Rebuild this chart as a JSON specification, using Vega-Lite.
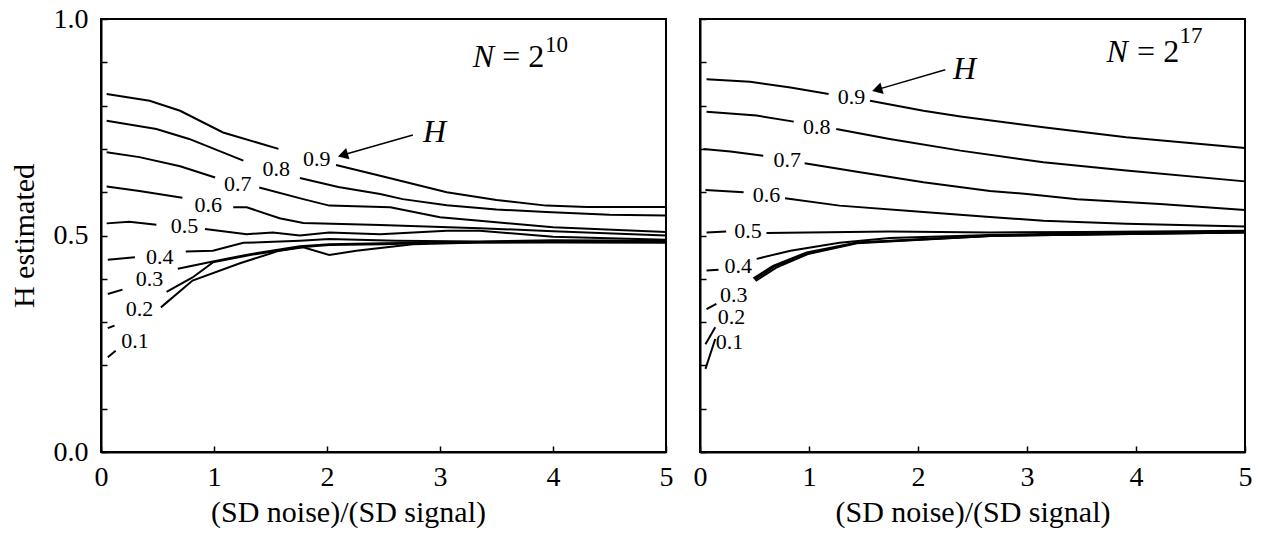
{
  "$schema": "https://vega.github.io/schema/vega-lite/v6.json",
  "background": "white",
  "padding": {"left": 8, "top": 4, "right": 0, "bottom": 0},
  "bounds": "flush",
  "spacing": 34,
  "config": {
    "font": "Liberation Serif",
    "view": {"stroke": "#000", "strokeWidth": 2},
    "axis": {
      "grid": false,
      "domainColor": "#000",
      "domainWidth": 2,
      "tickColor": "#000",
      "tickWidth": 1.5,
      "tickSize": -6,
      "labelFont": "Liberation Serif",
      "labelFontSize": 28,
      "labelColor": "#000",
      "labelPadding": 19,
      "labelFlush": false,
      "labelOverlap": false,
      "titleFont": "Liberation Serif",
      "titleFontSize": 30,
      "titleFontWeight": "normal",
      "titleColor": "#000"
    },
    "axisX": {"labelPadding": 17},
    "text": {"font": "Liberation Serif", "color": "#000"}
  },
  "datasets": {
    "one": [{}],
    "curves": [
      {"p": "L", "s": "L9a", "x": 0.05, "y": 0.827}, {"p": "L", "s": "L9a", "x": 0.43, "y": 0.811}, {"p": "L", "s": "L9a", "x": 0.70, "y": 0.788}, {"p": "L", "s": "L9a", "x": 1.08, "y": 0.738}, {"p": "L", "s": "L9a", "x": 1.57, "y": 0.700},
      {"p": "L", "s": "L9b", "x": 2.08, "y": 0.663}, {"p": "L", "s": "L9b", "x": 2.47, "y": 0.638}, {"p": "L", "s": "L9b", "x": 3.06, "y": 0.600}, {"p": "L", "s": "L9b", "x": 3.50, "y": 0.582}, {"p": "L", "s": "L9b", "x": 3.94, "y": 0.569}, {"p": "L", "s": "L9b", "x": 4.30, "y": 0.566}, {"p": "L", "s": "L9b", "x": 5.0, "y": 0.566},
      {"p": "L", "s": "L8a", "x": 0.05, "y": 0.765}, {"p": "L", "s": "L8a", "x": 0.49, "y": 0.746}, {"p": "L", "s": "L8a", "x": 0.78, "y": 0.723}, {"p": "L", "s": "L8a", "x": 1.26, "y": 0.673},
      {"p": "L", "s": "L8b", "x": 1.76, "y": 0.633}, {"p": "L", "s": "L8b", "x": 2.10, "y": 0.612}, {"p": "L", "s": "L8b", "x": 2.47, "y": 0.596}, {"p": "L", "s": "L8b", "x": 2.67, "y": 0.584}, {"p": "L", "s": "L8b", "x": 3.06, "y": 0.570}, {"p": "L", "s": "L8b", "x": 3.5, "y": 0.560}, {"p": "L", "s": "L8b", "x": 3.94, "y": 0.554}, {"p": "L", "s": "L8b", "x": 4.5, "y": 0.548}, {"p": "L", "s": "L8b", "x": 5.0, "y": 0.546},
      {"p": "L", "s": "L7a", "x": 0.05, "y": 0.692}, {"p": "L", "s": "L7a", "x": 0.34, "y": 0.681}, {"p": "L", "s": "L7a", "x": 0.70, "y": 0.660}, {"p": "L", "s": "L7a", "x": 1.01, "y": 0.634},
      {"p": "L", "s": "L7b", "x": 1.40, "y": 0.611}, {"p": "L", "s": "L7b", "x": 1.79, "y": 0.584}, {"p": "L", "s": "L7b", "x": 2.02, "y": 0.569}, {"p": "L", "s": "L7b", "x": 2.56, "y": 0.565}, {"p": "L", "s": "L7b", "x": 3.0, "y": 0.542}, {"p": "L", "s": "L7b", "x": 3.35, "y": 0.534}, {"p": "L", "s": "L7b", "x": 4.0, "y": 0.519}, {"p": "L", "s": "L7b", "x": 5.0, "y": 0.508},
      {"p": "L", "s": "L6a", "x": 0.05, "y": 0.613}, {"p": "L", "s": "L6a", "x": 0.34, "y": 0.603}, {"p": "L", "s": "L6a", "x": 0.72, "y": 0.587},
      {"p": "L", "s": "L6b", "x": 1.17, "y": 0.565}, {"p": "L", "s": "L6b", "x": 1.29, "y": 0.565}, {"p": "L", "s": "L6b", "x": 1.58, "y": 0.540}, {"p": "L", "s": "L6b", "x": 1.79, "y": 0.529}, {"p": "L", "s": "L6b", "x": 2.47, "y": 0.524}, {"p": "L", "s": "L6b", "x": 3.35, "y": 0.517}, {"p": "L", "s": "L6b", "x": 4.0, "y": 0.510}, {"p": "L", "s": "L6b", "x": 5.0, "y": 0.500},
      {"p": "L", "s": "L5a", "x": 0.05, "y": 0.528}, {"p": "L", "s": "L5a", "x": 0.25, "y": 0.532}, {"p": "L", "s": "L5a", "x": 0.49, "y": 0.525},
      {"p": "L", "s": "L5b", "x": 0.92, "y": 0.515}, {"p": "L", "s": "L5b", "x": 1.29, "y": 0.503}, {"p": "L", "s": "L5b", "x": 1.52, "y": 0.507}, {"p": "L", "s": "L5b", "x": 1.76, "y": 0.500}, {"p": "L", "s": "L5b", "x": 2.02, "y": 0.507}, {"p": "L", "s": "L5b", "x": 2.47, "y": 0.503}, {"p": "L", "s": "L5b", "x": 3.06, "y": 0.511}, {"p": "L", "s": "L5b", "x": 3.35, "y": 0.511}, {"p": "L", "s": "L5b", "x": 4.0, "y": 0.497}, {"p": "L", "s": "L5b", "x": 5.0, "y": 0.490},
      {"p": "L", "s": "L4a", "x": 0.06, "y": 0.444}, {"p": "L", "s": "L4a", "x": 0.30, "y": 0.450},
      {"p": "L", "s": "L4b", "x": 0.75, "y": 0.463}, {"p": "L", "s": "L4b", "x": 0.99, "y": 0.465}, {"p": "L", "s": "L4b", "x": 1.26, "y": 0.483}, {"p": "L", "s": "L4b", "x": 1.76, "y": 0.488}, {"p": "L", "s": "L4b", "x": 2.02, "y": 0.492}, {"p": "L", "s": "L4b", "x": 2.61, "y": 0.488}, {"p": "L", "s": "L4b", "x": 3.35, "y": 0.486}, {"p": "L", "s": "L4b", "x": 4.0, "y": 0.489}, {"p": "L", "s": "L4b", "x": 5.0, "y": 0.488},
      {"p": "L", "s": "L3a", "x": 0.06, "y": 0.365}, {"p": "L", "s": "L3a", "x": 0.19, "y": 0.375},
      {"p": "L", "s": "L3b", "x": 0.68, "y": 0.423}, {"p": "L", "s": "L3b", "x": 0.99, "y": 0.440}, {"p": "L", "s": "L3b", "x": 1.32, "y": 0.457}, {"p": "L", "s": "L3b", "x": 1.76, "y": 0.475}, {"p": "L", "s": "L3b", "x": 2.02, "y": 0.480}, {"p": "L", "s": "L3b", "x": 2.5, "y": 0.482}, {"p": "L", "s": "L3b", "x": 3.0, "y": 0.484}, {"p": "L", "s": "L3b", "x": 4.0, "y": 0.487}, {"p": "L", "s": "L3b", "x": 5.0, "y": 0.486},
      {"p": "L", "s": "L2a", "x": 0.06, "y": 0.286}, {"p": "L", "s": "L2a", "x": 0.12, "y": 0.292},
      {"p": "L", "s": "L2b", "x": 0.58, "y": 0.370}, {"p": "L", "s": "L2b", "x": 0.81, "y": 0.403}, {"p": "L", "s": "L2b", "x": 0.99, "y": 0.438}, {"p": "L", "s": "L2b", "x": 1.32, "y": 0.455}, {"p": "L", "s": "L2b", "x": 1.76, "y": 0.473}, {"p": "L", "s": "L2b", "x": 2.02, "y": 0.478}, {"p": "L", "s": "L2b", "x": 2.5, "y": 0.480}, {"p": "L", "s": "L2b", "x": 3.0, "y": 0.483}, {"p": "L", "s": "L2b", "x": 4.0, "y": 0.485}, {"p": "L", "s": "L2b", "x": 5.0, "y": 0.485},
      {"p": "L", "s": "L1a", "x": 0.06, "y": 0.219}, {"p": "L", "s": "L1a", "x": 0.13, "y": 0.234},
      {"p": "L", "s": "L1b", "x": 0.53, "y": 0.334}, {"p": "L", "s": "L1b", "x": 0.81, "y": 0.396}, {"p": "L", "s": "L1b", "x": 1.23, "y": 0.436}, {"p": "L", "s": "L1b", "x": 1.58, "y": 0.465}, {"p": "L", "s": "L1b", "x": 1.79, "y": 0.473}, {"p": "L", "s": "L1b", "x": 2.02, "y": 0.455}, {"p": "L", "s": "L1b", "x": 2.26, "y": 0.465}, {"p": "L", "s": "L1b", "x": 2.76, "y": 0.480}, {"p": "L", "s": "L1b", "x": 3.35, "y": 0.484}, {"p": "L", "s": "L1b", "x": 4.0, "y": 0.484}, {"p": "L", "s": "L1b", "x": 5.0, "y": 0.483},

      {"p": "R", "s": "R9a", "x": 0.06, "y": 0.861}, {"p": "R", "s": "R9a", "x": 0.46, "y": 0.855}, {"p": "R", "s": "R9a", "x": 0.83, "y": 0.842}, {"p": "R", "s": "R9a", "x": 1.18, "y": 0.827},
      {"p": "R", "s": "R9b", "x": 1.56, "y": 0.811}, {"p": "R", "s": "R9b", "x": 2.05, "y": 0.788}, {"p": "R", "s": "R9b", "x": 2.39, "y": 0.775}, {"p": "R", "s": "R9b", "x": 3.15, "y": 0.750}, {"p": "R", "s": "R9b", "x": 3.91, "y": 0.727}, {"p": "R", "s": "R9b", "x": 5.0, "y": 0.702},
      {"p": "R", "s": "R8a", "x": 0.06, "y": 0.786}, {"p": "R", "s": "R8a", "x": 0.52, "y": 0.777}, {"p": "R", "s": "R8a", "x": 0.86, "y": 0.763},
      {"p": "R", "s": "R8b", "x": 1.25, "y": 0.746}, {"p": "R", "s": "R8b", "x": 1.74, "y": 0.723}, {"p": "R", "s": "R8b", "x": 2.39, "y": 0.696}, {"p": "R", "s": "R8b", "x": 3.15, "y": 0.669}, {"p": "R", "s": "R8b", "x": 3.91, "y": 0.650}, {"p": "R", "s": "R8b", "x": 5.0, "y": 0.625},
      {"p": "R", "s": "R7a", "x": 0.03, "y": 0.700}, {"p": "R", "s": "R7a", "x": 0.28, "y": 0.694}, {"p": "R", "s": "R7a", "x": 0.58, "y": 0.684},
      {"p": "R", "s": "R7b", "x": 0.96, "y": 0.667}, {"p": "R", "s": "R7b", "x": 1.44, "y": 0.647}, {"p": "R", "s": "R7b", "x": 2.05, "y": 0.623}, {"p": "R", "s": "R7b", "x": 2.66, "y": 0.603}, {"p": "R", "s": "R7b", "x": 3.0, "y": 0.596}, {"p": "R", "s": "R7b", "x": 3.46, "y": 0.584}, {"p": "R", "s": "R7b", "x": 4.22, "y": 0.573}, {"p": "R", "s": "R7b", "x": 5.0, "y": 0.559},
      {"p": "R", "s": "R6a", "x": 0.05, "y": 0.605}, {"p": "R", "s": "R6a", "x": 0.40, "y": 0.600},
      {"p": "R", "s": "R6b", "x": 0.78, "y": 0.586}, {"p": "R", "s": "R6b", "x": 1.28, "y": 0.569}, {"p": "R", "s": "R6b", "x": 2.05, "y": 0.554}, {"p": "R", "s": "R6b", "x": 2.66, "y": 0.543}, {"p": "R", "s": "R6b", "x": 3.15, "y": 0.534}, {"p": "R", "s": "R6b", "x": 3.91, "y": 0.527}, {"p": "R", "s": "R6b", "x": 5.0, "y": 0.521},
      {"p": "R", "s": "R5a", "x": 0.06, "y": 0.507}, {"p": "R", "s": "R5a", "x": 0.24, "y": 0.509},
      {"p": "R", "s": "R5b", "x": 0.61, "y": 0.506}, {"p": "R", "s": "R5b", "x": 1.74, "y": 0.509}, {"p": "R", "s": "R5b", "x": 2.66, "y": 0.507}, {"p": "R", "s": "R5b", "x": 3.5, "y": 0.508}, {"p": "R", "s": "R5b", "x": 5.0, "y": 0.511},
      {"p": "R", "s": "R4a", "x": 0.06, "y": 0.419}, {"p": "R", "s": "R4a", "x": 0.17, "y": 0.421},
      {"p": "R", "s": "R4b", "x": 0.52, "y": 0.446}, {"p": "R", "s": "R4b", "x": 0.83, "y": 0.465}, {"p": "R", "s": "R4b", "x": 1.28, "y": 0.483}, {"p": "R", "s": "R4b", "x": 1.74, "y": 0.494}, {"p": "R", "s": "R4b", "x": 2.66, "y": 0.501}, {"p": "R", "s": "R4b", "x": 3.5, "y": 0.505}, {"p": "R", "s": "R4b", "x": 5.0, "y": 0.509},
      {"p": "R", "s": "R3a", "x": 0.06, "y": 0.330}, {"p": "R", "s": "R3a", "x": 0.15, "y": 0.342},
      {"p": "R", "s": "R3b", "x": 0.49, "y": 0.401}, {"p": "R", "s": "R3b", "x": 0.67, "y": 0.430}, {"p": "R", "s": "R3b", "x": 0.98, "y": 0.461}, {"p": "R", "s": "R3b", "x": 1.44, "y": 0.484}, {"p": "R", "s": "R3b", "x": 2.66, "y": 0.500}, {"p": "R", "s": "R3b", "x": 3.5, "y": 0.503}, {"p": "R", "s": "R3b", "x": 5.0, "y": 0.508},
      {"p": "R", "s": "R2a", "x": 0.05, "y": 0.249}, {"p": "R", "s": "R2a", "x": 0.14, "y": 0.288},
      {"p": "R", "s": "R2b", "x": 0.50, "y": 0.398}, {"p": "R", "s": "R2b", "x": 0.68, "y": 0.428}, {"p": "R", "s": "R2b", "x": 1.0, "y": 0.459}, {"p": "R", "s": "R2b", "x": 1.44, "y": 0.483}, {"p": "R", "s": "R2b", "x": 2.66, "y": 0.499}, {"p": "R", "s": "R2b", "x": 5.0, "y": 0.507},
      {"p": "R", "s": "R1a", "x": 0.05, "y": 0.192}, {"p": "R", "s": "R1a", "x": 0.14, "y": 0.261},
      {"p": "R", "s": "R1b", "x": 0.51, "y": 0.395}, {"p": "R", "s": "R1b", "x": 0.70, "y": 0.426}, {"p": "R", "s": "R1b", "x": 1.0, "y": 0.458}, {"p": "R", "s": "R1b", "x": 1.44, "y": 0.482}, {"p": "R", "s": "R1b", "x": 2.66, "y": 0.499}, {"p": "R", "s": "R1b", "x": 5.0, "y": 0.507}
    ],
    "labels": [
      {"p": "L", "t": "0.9", "x": 1.91, "y": 0.677}, {"p": "L", "t": "0.8", "x": 1.55, "y": 0.654}, {"p": "L", "t": "0.7", "x": 1.21, "y": 0.619},
      {"p": "L", "t": "0.6", "x": 0.95, "y": 0.570}, {"p": "L", "t": "0.5", "x": 0.74, "y": 0.521}, {"p": "L", "t": "0.4", "x": 0.52, "y": 0.450},
      {"p": "L", "t": "0.3", "x": 0.43, "y": 0.400}, {"p": "L", "t": "0.2", "x": 0.34, "y": 0.330}, {"p": "L", "t": "0.1", "x": 0.30, "y": 0.257},
      {"p": "R", "t": "0.9", "x": 1.39, "y": 0.819}, {"p": "R", "t": "0.8", "x": 1.07, "y": 0.750}, {"p": "R", "t": "0.7", "x": 0.80, "y": 0.675},
      {"p": "R", "t": "0.6", "x": 0.61, "y": 0.594}, {"p": "R", "t": "0.5", "x": 0.44, "y": 0.511}, {"p": "R", "t": "0.4", "x": 0.35, "y": 0.430},
      {"p": "R", "t": "0.3", "x": 0.31, "y": 0.363}, {"p": "R", "t": "0.2", "x": 0.29, "y": 0.311}, {"p": "R", "t": "0.1", "x": 0.27, "y": 0.253}
    ]
  },
  "hconcat": [
    {
      "width": 565,
      "height": 433,
      "layer": [
        {
          "data": {"name": "curves"},
          "transform": [{"filter": "datum.p === 'L'"}],
          "mark": {"type": "line", "color": "#000", "strokeWidth": 2},
          "encoding": {
            "x": {"field": "x", "type": "quantitative", "scale": {"domain": [0, 5], "nice": false},
                  "axis": {"values": [0, 1, 2, 3, 4, 5], "format": "d", "title": "(SD noise)/(SD signal)", "titleX": 247, "titlePadding": 6}},
            "y": {"field": "y", "type": "quantitative", "scale": {"domain": [0, 1], "nice": false},
                  "axis": {"values": [0, 0.1, 0.2, 0.3, 0.4, 0.5, 0.6, 0.7, 0.8, 0.9, 1.0],
                           "labelExpr": "datum.value === 0 || datum.value === 0.5 || datum.value === 1 ? format(datum.value, '.1f') : ''",
                           "title": "H estimated", "titlePadding": 14}},
            "detail": {"field": "s"}
          }
        },
        {
          "data": {"name": "labels"},
          "transform": [{"filter": "datum.p === 'L'"}],
          "mark": {"type": "text", "fontSize": 22, "align": "center", "baseline": "middle"},
          "encoding": {
            "x": {"field": "x", "type": "quantitative"},
            "y": {"field": "y", "type": "quantitative"},
            "text": {"field": "t"}
          }
        },
        {
          "data": {"name": "one"},
          "mark": {"type": "text", "text": "N", "fontStyle": "italic", "fontSize": 32, "align": "left", "baseline": "alphabetic"},
          "encoding": {"x": {"datum": 3.29, "type": "quantitative"}, "y": {"datum": 0.889, "type": "quantitative"}}
        },
        {
          "data": {"name": "one"},
          "mark": {"type": "text", "text": "= 2", "fontSize": 32, "align": "left", "baseline": "alphabetic"},
          "encoding": {"x": {"datum": 3.55, "type": "quantitative"}, "y": {"datum": 0.889, "type": "quantitative"}}
        },
        {
          "data": {"name": "one"},
          "mark": {"type": "text", "text": "10", "fontSize": 23, "align": "left", "baseline": "alphabetic"},
          "encoding": {"x": {"datum": 3.93, "type": "quantitative"}, "y": {"datum": 0.924, "type": "quantitative"}}
        },
        {
          "data": {"name": "one"},
          "mark": {"type": "text", "text": "H", "fontStyle": "italic", "fontSize": 32, "align": "left", "baseline": "alphabetic"},
          "encoding": {"x": {"datum": 2.85, "type": "quantitative"}, "y": {"datum": 0.716, "type": "quantitative"}}
        },
        {
          "data": {"name": "one"},
          "mark": {"type": "rule", "color": "#000", "strokeWidth": 1.5},
          "encoding": {
            "x": {"datum": 2.76, "type": "quantitative"}, "y": {"datum": 0.732, "type": "quantitative"},
            "x2": {"datum": 2.155}, "y2": {"datum": 0.687}
          }
        },
        {
          "data": {"name": "one"},
          "mark": {"type": "point", "shape": "triangle", "angle": 254, "size": 140, "filled": true, "color": "#000", "opacity": 1},
          "encoding": {"x": {"datum": 2.155, "type": "quantitative"}, "y": {"datum": 0.687, "type": "quantitative"}}
        }
      ]
    },
    {
      "width": 545,
      "height": 433,
      "layer": [
        {
          "data": {"name": "curves"},
          "transform": [{"filter": "datum.p === 'R'"}],
          "mark": {"type": "line", "color": "#000", "strokeWidth": 2},
          "encoding": {
            "x": {"field": "x", "type": "quantitative", "scale": {"domain": [0, 5], "nice": false},
                  "axis": {"values": [0, 1, 2, 3, 4, 5], "format": "d", "title": "(SD noise)/(SD signal)", "titlePadding": 6}},
            "y": {"field": "y", "type": "quantitative", "scale": {"domain": [0, 1], "nice": false},
                  "axis": {"values": [0, 0.1, 0.2, 0.3, 0.4, 0.5, 0.6, 0.7, 0.8, 0.9, 1.0], "labels": false, "title": null}},
            "detail": {"field": "s"}
          }
        },
        {
          "data": {"name": "labels"},
          "transform": [{"filter": "datum.p === 'R'"}],
          "mark": {"type": "text", "fontSize": 22, "align": "center", "baseline": "middle"},
          "encoding": {
            "x": {"field": "x", "type": "quantitative"},
            "y": {"field": "y", "type": "quantitative"},
            "text": {"field": "t"}
          }
        },
        {
          "data": {"name": "one"},
          "mark": {"type": "text", "text": "N", "fontStyle": "italic", "fontSize": 32, "align": "left", "baseline": "alphabetic"},
          "encoding": {"x": {"datum": 3.73, "type": "quantitative"}, "y": {"datum": 0.901, "type": "quantitative"}}
        },
        {
          "data": {"name": "one"},
          "mark": {"type": "text", "text": "= 2", "fontSize": 32, "align": "left", "baseline": "alphabetic"},
          "encoding": {"x": {"datum": 4.01, "type": "quantitative"}, "y": {"datum": 0.901, "type": "quantitative"}}
        },
        {
          "data": {"name": "one"},
          "mark": {"type": "text", "text": "17", "fontSize": 23, "align": "left", "baseline": "alphabetic"},
          "encoding": {"x": {"datum": 4.4, "type": "quantitative"}, "y": {"datum": 0.945, "type": "quantitative"}}
        },
        {
          "data": {"name": "one"},
          "mark": {"type": "text", "text": "H", "fontStyle": "italic", "fontSize": 32, "align": "left", "baseline": "alphabetic"},
          "encoding": {"x": {"datum": 2.32, "type": "quantitative"}, "y": {"datum": 0.861, "type": "quantitative"}}
        },
        {
          "data": {"name": "one"},
          "mark": {"type": "rule", "color": "#000", "strokeWidth": 1.5},
          "encoding": {
            "x": {"datum": 2.25, "type": "quantitative"}, "y": {"datum": 0.883, "type": "quantitative"},
            "x2": {"datum": 1.64}, "y2": {"datum": 0.838}
          }
        },
        {
          "data": {"name": "one"},
          "mark": {"type": "point", "shape": "triangle", "angle": 254, "size": 140, "filled": true, "color": "#000", "opacity": 1},
          "encoding": {"x": {"datum": 1.64, "type": "quantitative"}, "y": {"datum": 0.838, "type": "quantitative"}}
        }
      ]
    }
  ]
}
